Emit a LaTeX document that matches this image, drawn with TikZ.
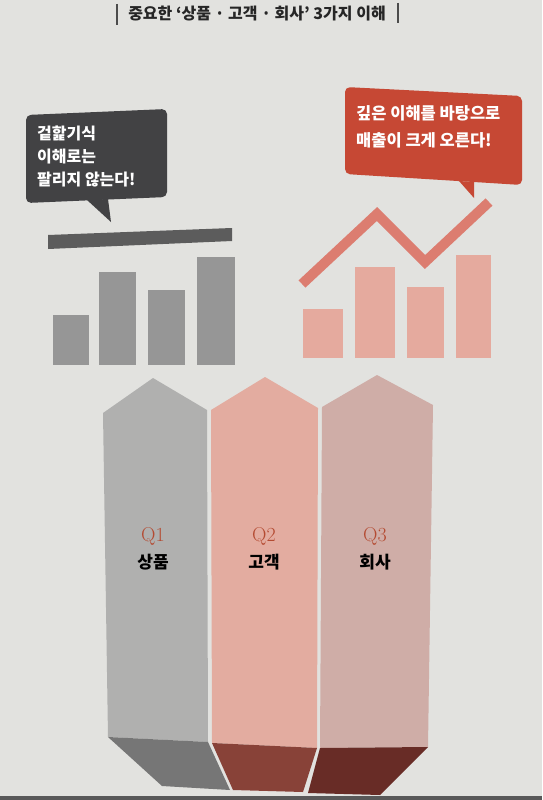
\documentclass[tikz,border=0pt]{standalone}
\usepackage{fontspec}
\newfontfamily\kr{Noto Sans CJK KR}
\newfontfamily\krb{Noto Sans CJK KR Black}
\definecolor{bgc}{RGB}{226,226,223}
\definecolor{bubdark}{RGB}{66,66,68}
\definecolor{bardark}{RGB}{92,92,92}
\definecolor{bargray}{RGB}{150,150,150}
\definecolor{bubred}{RGB}{198,72,52}
\definecolor{zig}{RGB}{220,125,112}
\definecolor{barpink}{RGB}{229,170,158}
\definecolor{pilA}{RGB}{176,176,175}
\definecolor{pilB}{RGB}{227,172,160}
\definecolor{pilC}{RGB}{207,173,167}
\definecolor{faceA}{RGB}{118,118,118}
\definecolor{faceB}{RGB}{136,66,56}
\definecolor{faceC}{RGB}{104,44,38}
\definecolor{qred}{RGB}{180,75,50}
\tikzset{
  titletext/.style={font=\krb\fontsize{16}{18}\selectfont, text=black!85},
  bubbletext/.style={font=\krb\fontsize{16}{23}\selectfont, text=white, align=left, inner sep=0pt},
  qlabel/.style={font=\fontsize{20}{22}\selectfont, text=qred},
  namelabel/.style={font=\krb\fontsize{17}{18}\selectfont, text=black},
}
\begin{document}
\begin{tikzpicture}[x=1pt,y=-1pt]
\useasboundingbox (0,0) rectangle (542,800);
\fill[bgc] (0,0) rectangle (542,800);
\fill[black!65] (0,796) rectangle (542,800);
% title
\draw[black!70, line width=1.3pt] (117,4) -- (117,25);
\draw[black!70, line width=1.3pt] (398,3) -- (398,23);
\node[titletext] (title) at (257,14) {중요한 ‘상품 · 고객 · 회사’ 3가지 이해};
% left bubble
\fill[bubdark, rounded corners=5pt] (26,115) -- (167,109) -- (167,197) -- (26,203) -- cycle;
\fill[bubdark] (87,200) -- (108,199) -- (111,222) -- cycle;
\node[bubbletext, anchor=north west] (ltext) at (37,126) {겉핥기식\\이해로는\\팔리지 않는다!};
% left flat bar
\fill[bardark] (48,235) -- (232,228) -- (232,241) -- (48,249) -- cycle;
% left bars
\fill[bargray] (53,315) rectangle (89,365);
\fill[bargray] (99,272) rectangle (136,365);
\fill[bargray] (148,290) rectangle (185,365);
\fill[bargray] (197,257) rectangle (235,365);
% right bubble
\fill[bubred, rounded corners=5pt] (345,87) -- (522,96) -- (522,185) -- (345,174) -- cycle;
\fill[bubred] (459,181) -- (474,182) -- (474,198) -- cycle;
\node[bubbletext, font=\krb\fontsize{16.5}{27}\selectfont, anchor=north west] (rtext) at (356,105) {깊은 이해를 바탕으로\\매출이 크게 오른다!};
% zigzag
\draw[zig, line width=10pt] (302,284) -- (377,214) -- (425,262) -- (489,202);
% right bars
\fill[barpink] (303,309) rectangle (343,358);
\fill[barpink] (355,267) rectangle (395,358);
\fill[barpink] (407,287) rectangle (444,358);
\fill[barpink] (456,255) rectangle (491,358);
% pillars
\fill[pilA] (103,413) -- (153,378) -- (207,410) -- (208,742) -- (108,737) -- cycle;
\fill[pilB] (211,410) -- (265,377) -- (318,408) -- (317,748) -- (212,743) -- cycle;
\fill[pilC] (322,407) -- (377,375) -- (433,405) -- (428,747) -- (320,748) -- cycle;
% bottom faces
\fill[faceA] (108,737) -- (208,742) -- (230,790) -- (162,786) -- cycle;
\fill[faceB] (212,743) -- (317,748) -- (303,792) -- (233,790) -- cycle;
\fill[faceC] (320,748) -- (428,747) -- (380,795) -- (308,793) -- cycle;
% labels
\node[qlabel] (q1) at (153,536) {Q1};
\node[namelabel] (n1) at (153,562) {상품};
\node[qlabel] (q2) at (264,536) {Q2};
\node[namelabel] (n2) at (264,562) {고객};
\node[qlabel] (q3) at (375,536) {Q3};
\node[namelabel] (n3) at (375,562) {회사};
\end{tikzpicture}
\end{document}
